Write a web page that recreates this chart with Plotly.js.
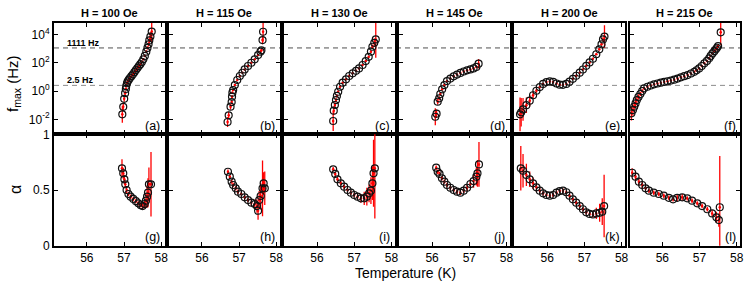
<!DOCTYPE html>
<html><head><meta charset="utf-8">
<script src="https://cdn.plot.ly/plotly-3.0.1.min.js"></script>
<style>html,body{margin:0;padding:0;background:#fff}#chart{width:747px;height:285px}</style>
</head><body><div id="chart"></div>
<script>
// ---- labels / ticks ----
const fieldLabels = ['H = 100 Oe','H = 115 Oe','H = 130 Oe','H = 145 Oe','H = 200 Oe','H = 215 Oe'];
const topLetters = ['(a)','(b)','(c)','(d)','(e)','(f)'];
const botLetters = ['(g)','(h)','(i)','(j)','(k)','(l)'];
const xTicks = [56,57,58];
const fTickExps = [-2,0,2,4];          // f_max decades (log10 Hz)
const alphaTicks = [0,0.5,1];
const refFreqs = [1111, 2.5];           // Hz
const refLabels = ['1111 Hz','2.5 Hz'];

// ---- f_max data: temperature (K), log10(f_max / Hz), error (decades) ----
const T_a = [56.955,56.98,57.005,57.03,57.05,57.06,57.08,57.10,57.13,57.16,57.20,57.24,57.28,57.32,57.36,57.40,57.44,57.48,57.52,57.56,57.60,57.63,57.66,57.68,57.71,57.745];
const logF_a = [-1.65,-1.12,-0.55,-0.15,0.15,0.35,0.55,0.68,0.80,0.92,1.05,1.18,1.33,1.48,1.62,1.76,1.90,2.05,2.24,2.48,2.78,3.05,3.30,3.58,3.85,4.20];
const errF_a = [0.6,0.3,0.2,0.15,0.1,0.08,0.06,0.05,0.05,0.05,0.05,0.05,0.05,0.05,0.05,0.05,0.05,0.05,0.06,0.08,0.1,0.12,0.15,0.2,0.3,0.8];

const T_b = [56.69,56.72,56.77,56.80,56.81,56.82,56.84,56.885,56.95,57.02,57.09,57.15,57.24,57.33,57.42,57.51,57.575,57.60,57.63,57.645];
const logF_b = [-2.19,-1.72,-1.11,-0.78,-0.40,-0.12,0.07,0.42,0.78,1.06,1.29,1.53,1.77,2.00,2.24,2.54,2.78,2.88,3.60,4.19];
const errF_b = [0.35,0.25,0.2,0.15,0.1,0.08,0.06,0.05,0.05,0.05,0.05,0.05,0.05,0.05,0.05,0.06,0.08,0.1,0.3,0.7];

const T_c = [56.435,56.45,56.48,56.51,56.535,56.57,56.62,56.69,56.78,56.865,56.96,57.05,57.13,57.225,57.31,57.39,57.45,57.49,57.54,57.58];
const logF_c = [-2.12,-1.39,-0.99,-0.64,-0.35,-0.05,0.30,0.59,0.83,1.06,1.25,1.43,1.60,1.84,2.12,2.42,2.78,3.13,3.41,3.65];
const errF_c = [0.7,0.3,0.2,0.15,0.1,0.08,0.06,0.05,0.05,0.05,0.05,0.05,0.05,0.05,0.06,0.08,0.1,0.15,0.3,1.3];

const T_d = [56.086,56.12,56.15,56.19,56.22,56.27,56.33,56.40,56.49,56.58,56.67,56.76,56.85,56.94,57.03,57.115,57.19,57.25];
const logF_d = [-1.82,-1.60,-0.75,-0.52,-0.21,0.12,0.42,0.70,0.88,1.04,1.16,1.28,1.38,1.46,1.53,1.60,1.70,1.93];
const errF_d = [0.6,0.3,0.2,0.15,0.1,0.08,0.06,0.05,0.05,0.05,0.05,0.05,0.05,0.05,0.05,0.06,0.08,0.33];

const T_e = [55.27,55.30,55.35,55.44,55.53,55.62,55.71,55.80,55.89,55.98,56.07,56.16,56.25,56.335,56.425,56.515,56.60,56.69,56.78,56.875,56.96,57.05,57.14,57.23,57.32,57.40,57.46,57.50,57.54];
const logF_e = [-1.65,-1.50,-1.30,-1.00,-0.68,-0.30,0.02,0.28,0.50,0.63,0.68,0.64,0.53,0.45,0.44,0.50,0.66,0.86,1.08,1.30,1.52,1.78,2.02,2.28,2.60,2.95,3.30,3.65,3.85];
const errF_e = [1.2,1.0,0.8,0.55,0.4,0.25,0.15,0.1,0.07,0.05,0.05,0.05,0.05,0.05,0.05,0.05,0.05,0.05,0.05,0.05,0.05,0.05,0.05,0.05,0.06,0.08,0.1,0.15,0.8];

const T_f = [55.17,55.21,55.245,55.28,55.315,55.36,55.41,55.46,55.51,55.60,55.69,55.78,55.87,55.96,56.05,56.14,56.23,56.32,56.41,56.50,56.59,56.68,56.77,56.86,56.92,56.99,57.06,57.13,57.20,57.26,57.30,57.35,57.40,57.44,57.47,57.50,57.57];
const logF_f = [-1.58,-1.35,-1.11,-0.88,-0.64,-0.42,-0.21,0.00,0.19,0.30,0.39,0.47,0.53,0.59,0.64,0.69,0.74,0.80,0.88,0.97,1.05,1.13,1.24,1.36,1.47,1.60,1.77,1.96,2.13,2.31,2.48,2.66,2.82,2.95,3.06,3.18,4.15];
const errF_f = [0.5,0.4,0.35,0.3,0.25,0.2,0.15,0.12,0.1,0.08,0.06,0.05,0.05,0.05,0.05,0.05,0.05,0.05,0.05,0.05,0.05,0.05,0.05,0.05,0.05,0.05,0.05,0.05,0.05,0.05,0.05,0.06,0.06,0.08,0.08,0.1,0.9];

// ---- alpha data: temperature (K), alpha, error ----
const T_g = [56.946,56.98,57.01,57.035,57.07,57.12,57.18,57.25,57.32,57.385,57.45,57.50,57.555,57.59,57.62,57.645,57.67,57.726];
const alpha_g = [0.695,0.65,0.596,0.551,0.50,0.464,0.44,0.42,0.40,0.38,0.363,0.356,0.374,0.404,0.44,0.476,0.551,0.551];
const errA_g = [0.08,0.05,0.04,0.03,0.03,0.02,0.02,0.02,0.02,0.02,0.02,0.03,0.04,0.06,0.10,0.13,0.15,0.29];

const T_h = [56.70,56.75,56.80,56.84,56.91,56.97,57.06,57.15,57.24,57.33,57.42,57.48,57.51,57.54,57.58,57.63,57.66,57.69];
const alpha_h = [0.664,0.62,0.575,0.545,0.515,0.485,0.464,0.434,0.41,0.386,0.374,0.356,0.314,0.41,0.446,0.515,0.56,0.515];
const errA_h = [0.02,0.02,0.02,0.02,0.02,0.02,0.02,0.02,0.02,0.03,0.04,0.06,0.08,0.08,0.12,0.25,0.10,0.15];

const T_i = [56.435,56.49,56.55,56.64,56.73,56.82,56.91,57.00,57.09,57.18,57.27,57.34,57.40,57.45,57.49,57.52,57.555];
const alpha_i = [0.686,0.644,0.596,0.56,0.53,0.50,0.476,0.455,0.44,0.425,0.425,0.44,0.47,0.494,0.56,0.65,0.695];
const errA_i = [0.02,0.02,0.02,0.02,0.02,0.02,0.02,0.02,0.03,0.04,0.06,0.08,0.08,0.12,0.15,0.3,0.45];

const T_j = [56.11,56.15,56.20,56.265,56.33,56.40,56.49,56.58,56.67,56.76,56.85,56.94,57.03,57.115,57.19,57.22,57.26];
const alpha_j = [0.70,0.664,0.644,0.605,0.575,0.545,0.52,0.50,0.485,0.476,0.494,0.52,0.554,0.58,0.62,0.65,0.73];
const errA_j = [0.02,0.02,0.02,0.02,0.02,0.02,0.02,0.02,0.02,0.02,0.02,0.03,0.04,0.06,0.08,0.12,0.2];

const T_k = [55.29,55.35,55.44,55.53,55.62,55.71,55.80,55.89,55.98,56.07,56.16,56.25,56.335,56.425,56.515,56.60,56.69,56.78,56.875,56.96,57.05,57.14,57.23,57.32,57.41,57.48,57.53];
const alpha_k = [0.695,0.673,0.635,0.596,0.56,0.524,0.494,0.47,0.455,0.449,0.455,0.476,0.49,0.494,0.48,0.449,0.416,0.386,0.356,0.327,0.30,0.285,0.28,0.29,0.296,0.305,0.356];
const errA_k = [0.2,0.15,0.1,0.07,0.05,0.04,0.03,0.02,0.02,0.02,0.02,0.02,0.02,0.02,0.02,0.02,0.02,0.02,0.02,0.02,0.02,0.02,0.03,0.05,0.08,0.12,0.28];

const T_l = [55.19,55.28,55.37,55.46,55.55,55.64,55.77,55.905,56.04,56.175,56.29,56.40,56.535,56.67,56.80,56.94,57.07,57.21,57.34,57.455,57.52,57.545];
const alpha_l = [0.655,0.62,0.575,0.545,0.515,0.494,0.476,0.464,0.449,0.43,0.416,0.43,0.434,0.425,0.404,0.38,0.356,0.327,0.29,0.255,0.23,0.345];
const errA_l = [0.04,0.04,0.03,0.03,0.02,0.02,0.02,0.02,0.02,0.02,0.02,0.03,0.03,0.02,0.02,0.02,0.02,0.02,0.03,0.05,0.06,0.46];

const topPanels = [[T_a,logF_a,errF_a],[T_b,logF_b,errF_b],[T_c,logF_c,errF_c],[T_d,logF_d,errF_d],[T_e,logF_e,errF_e],[T_f,logF_f,errF_f]];
const botPanels = [[T_g,alpha_g,errA_g],[T_h,alpha_h,errA_h],[T_i,alpha_i,errA_i],[T_j,alpha_j,errA_j],[T_k,alpha_k,errA_k],[T_l,alpha_l,errA_l]];

// ---- layout geometry ----
const W = 747, H = 285;
const FONT = 'Liberation Sans, Arial, Helvetica, sans-serif';
const xRange = [55.118, 58.089];
const topY = [22.7, 134.3], botY = [134.3, 245.7];
const fRange = [-3.06, 4.83];
const px = v => v / W, py = v => 1 - v / H;
const axn = n => (n === 1 ? '' : String(n));

const common = {showline:true, linecolor:'black', linewidth:2, mirror:'ticks', ticks:'inside', ticklen:4,
  tickwidth:1, tickcolor:'black', showgrid:false, zeroline:false, fixedrange:true,
  tickfont:{size:12, family:FONT, color:'black'}};

const traces = [];
const layout = {width:W, height:H, margin:{l:0,r:0,t:0,b:0}, showlegend:false,
  paper_bgcolor:'white', plot_bgcolor:'rgba(0,0,0,0)', font:{family:FONT, color:'black', size:12},
  annotations:[], shapes:[]};

for (let p = 0; p < 6; p++) {
  const x57 = 124 + 115.1 * p;
  const L = x57 - 70, R = x57 + 40.5;
  for (let row = 0; row < 2; row++) {
    const n = row * 6 + p + 1;
    const [T, Y, E] = row === 0 ? topPanels[p] : botPanels[p];
    const xa = 'x' + axn(n), ya = 'y' + axn(n);
    traces.push({x:T, y:Y, xaxis:xa, yaxis:ya, type:'scatter', mode:'markers', hoverinfo:'skip',
      marker:{size:2.5, color:'#ff0000'},
      error_y:{type:'data', array:E, visible:true, color:'#ff0000', thickness:1.3, width:0}});
    traces.push({x:T, y:Y, xaxis:xa, yaxis:ya, type:'scatter', mode:'markers', hoverinfo:'skip',
      marker:{symbol:'circle-open', size:7, color:'#111', line:{width:1.2, color:'#111'}}});
    const yd = row === 0 ? topY : botY;
    layout['xaxis' + axn(n)] = Object.assign({}, common, {domain:[px(L), px(R)], range:xRange,
      anchor:ya, tickvals:xTicks, ticktext:xTicks.map(String), showticklabels: row === 1});
    layout['yaxis' + axn(n)] = Object.assign({}, common, {domain:[py(yd[1]), py(yd[0])],
      range: row === 0 ? fRange : [0, 1], anchor:xa,
      tickvals: row === 0 ? fTickExps : alphaTicks,
      ticktext: row === 0 ? fTickExps.map(e => '10<sup>' + e + '</sup>') : alphaTicks.map(String),
      showticklabels: p === 0});
    layout.annotations.push({xref:'paper', yref:'paper', x:px(R - 2.5), y:py(row === 0 ? 126 : 237),
      xanchor:'right', yanchor:'middle', showarrow:false,
      text:(row === 0 ? topLetters : botLetters)[p], font:{size:12.5, family:FONT}});
  }
  layout.annotations.push({xref:'paper', yref:'paper', x:px((L + R) / 2), y:py(12.5), xanchor:'center',
    yanchor:'middle', showarrow:false, text:'<b>' + fieldLabels[p] + '</b>', font:{size:11, family:FONT}});
}

// reference frequency lines
const refColors = ['#505050', '#8c8c8c'];
const refLabelY = [43, 80];
refFreqs.forEach((f, i) => {
  layout.shapes.push({type:'line', xref:'paper', yref:'y', x0:px(54), x1:px(740),
    y0:Math.log10(f), y1:Math.log10(f), layer:'below', line:{color:refColors[i], width:1, dash:'5px,4px'}});
  layout.annotations.push({xref:'paper', yref:'paper', x:px(65), y:py(refLabelY[i]), xanchor:'left',
    yanchor:'middle', showarrow:false, text:'<b>' + refLabels[i] + '</b>', font:{size:9, family:FONT}});
});

// axis titles
layout.annotations.push({xref:'paper', yref:'paper', x:px(405), y:py(273), xanchor:'center', yanchor:'middle',
  showarrow:false, text:'Temperature (K)', font:{size:14, family:FONT}});
layout.annotations.push({xref:'paper', yref:'paper', x:px(13), y:py(84), xanchor:'center', yanchor:'middle',
  showarrow:false, textangle:-90, text:'f<sub>max</sub> (Hz)', font:{size:15, family:FONT}});
layout.annotations.push({xref:'paper', yref:'paper', x:px(15), y:py(190), xanchor:'center', yanchor:'middle',
  showarrow:false, textangle:-90, text:'α', font:{size:16, family:FONT}});

Plotly.newPlot('chart', traces, layout, {staticPlot:true, displayModeBar:false});
</script></body></html>
